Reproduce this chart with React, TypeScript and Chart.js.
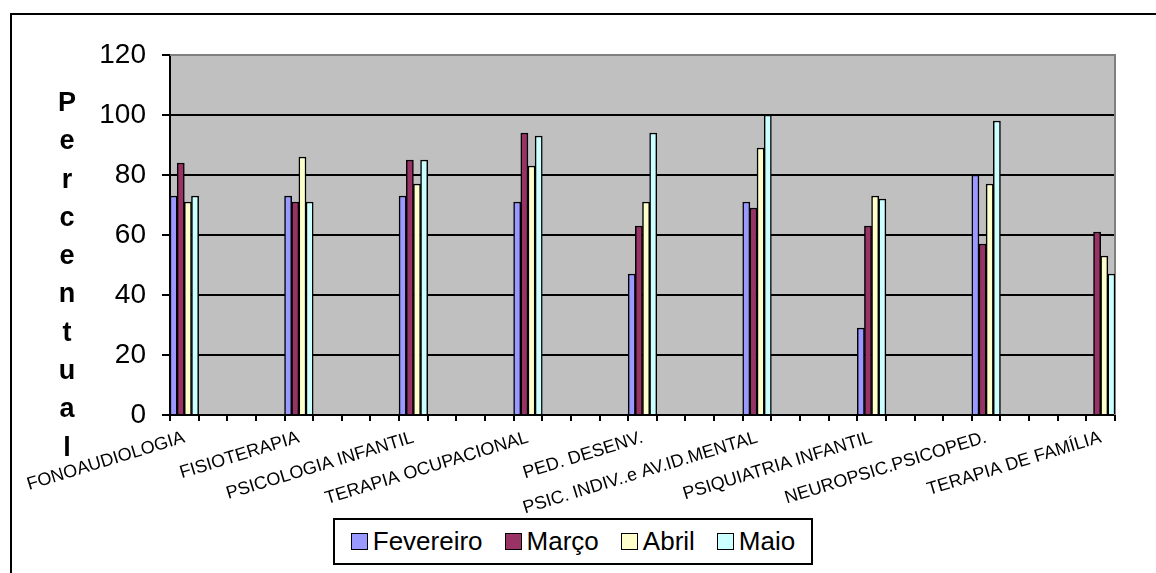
import React, { useEffect, useRef } from "react";
import { Chart, registerables } from "chart.js";

Chart.register(...registerables);

const categories = [
  "FONOAUDIOLOGIA",
  "FISIOTERAPIA",
  "PSICOLOGIA INFANTIL",
  "TERAPIA OCUPACIONAL",
  "PED. DESENV.",
  "PSIC. INDIV..e AV.ID.MENTAL",
  "PSIQUIATRIA INFANTIL",
  "NEUROPSIC.PSICOPED.",
  "TERAPIA DE FAMÍLIA",
];
const fevereiro: (number | null)[] = [73, 73, 73, 71, 47, 71, 29, 80, null];
const marco: (number | null)[] = [84, 71, 85, 94, 63, 69, 63, 57, 61];
const abril: (number | null)[] = [71, 86, 77, 83, 71, 89, 73, 77, 53];
const maio: (number | null)[] = [73, 71, 85, 93, 94, 100, 72, 98, 47];
const seriesNames = ["Fevereiro", "Março", "Abril", "Maio"];
const seriesColors = ["#9999FF", "#993366", "#FFFFCC", "#CCFFFF"];
const yTitle = "Percentual";
const yMin = 0;
const yMax = 120;
const yStep = 20;
// empty category slots between each labelled category (as in the original sheet)
const emptySlots = 3;

const FONT = "'Liberation Sans', Arial, Helvetica, sans-serif";

function pad<T>(arr: T[], filler: T): T[] {
  const out: T[] = [];
  arr.forEach((v, i) => {
    out.push(v);
    if (i < arr.length - 1) for (let k = 0; k < emptySlots; k++) out.push(filler);
  });
  return out;
}

const plotPlugin = {
  id: "plotBg",
  beforeDraw(chart: any) {
    const { ctx, chartArea } = chart;
    ctx.save();
    ctx.fillStyle = "#C0C0C0";
    ctx.fillRect(chartArea.left, chartArea.top, chartArea.right - chartArea.left, chartArea.bottom - chartArea.top);
    ctx.restore();
  },
  beforeDatasetsDraw(chart: any) {
    const { ctx, chartArea } = chart;
    ctx.save();
    ctx.strokeStyle = "#808080";
    ctx.lineWidth = 2;
    ctx.beginPath();
    ctx.moveTo(chartArea.left, chartArea.top);
    ctx.lineTo(chartArea.right, chartArea.top);
    ctx.lineTo(chartArea.right, chartArea.bottom);
    ctx.stroke();
    ctx.restore();
  },
};

export default function App() {
  const ref = useRef<HTMLCanvasElement>(null);

  useEffect(() => {
    document.documentElement.style.overflow = "hidden";
    document.body.style.overflow = "hidden";
    if (!ref.current) return;
    const series = [fevereiro, marco, abril, maio];
    const chart = new Chart(ref.current, {
      type: "bar",
      data: {
        labels: pad(categories, ""),
        datasets: series.map((s, i) => ({
          label: seriesNames[i],
          data: pad(s, null),
          backgroundColor: seriesColors[i],
          borderColor: "#000000",
          borderWidth: 1.5,
          categoryPercentage: 1,
          barPercentage: 1,
        })),
      },
      options: {
        responsive: false,
        animation: false,
        devicePixelRatio: 1,
        layout: { padding: { left: 0, top: 47, right: 33, bottom: 0 } },
        plugins: {
          legend: { display: false },
          tooltip: { enabled: false },
          title: { display: false },
        },
        scales: {
          x: {
            afterFit: (s: any) => {
              s.height = 150;
            },
            grid: {
              offset: true,
              drawOnChartArea: false,
              drawTicks: true,
              tickLength: 6,
              tickColor: "#000000",
              lineWidth: 2,
            },
            border: { display: true, color: "#000000", width: 2 },
            ticks: {
              autoSkip: false,
              minRotation: 17,
              maxRotation: 17,
              color: "#000000",
              padding: 6,
              font: { family: FONT, size: 18 },
            },
          },
          y: {
            min: yMin,
            max: yMax,
            afterFit: (s: any) => {
              s.width = 162;
            },
            grid: {
              color: (c: any) => (c.tick && c.tick.value === yMax ? "rgba(0,0,0,0)" : "#000000"),
              tickColor: "#000000",
              lineWidth: 2,
              tickLength: 8,
            },
            border: { display: true, color: "#000000", width: 2 },
            ticks: {
              stepSize: yStep,
              color: "#000000",
              padding: 16,
              font: { family: FONT, size: 28 },
            },
          },
        },
      },
      plugins: [plotPlugin],
    });
    return () => chart.destroy();
  }, []);

  return (
    <div style={{ position: "relative", width: 1140, height: 557 }}>
      <div
        style={{
          position: "fixed",
          left: 10,
          top: 13,
          width: 2000,
          height: 2000,
          borderTop: "2px solid #000",
          borderLeft: "2px solid #000",
        }}
      />
      <canvas ref={ref} width={1140} height={557} style={{ position: "absolute", left: 0, top: 0 }} />
      <div
        style={{
          position: "absolute",
          left: 44,
          top: 75,
          width: 30,
          textAlign: "center",
          fontFamily: FONT,
          fontWeight: "bold",
          fontSize: 27,
          lineHeight: "38.3px",
          color: "#000",
        }}
      >
        {yTitle.split("").map((ch, i) => (
          <div key={i}>{ch}</div>
        ))}
      </div>
      <div
        style={{
          position: "absolute",
          left: 325,
          top: 510,
          width: 480,
          height: 47,
          boxSizing: "border-box",
          border: "2px solid #000",
          background: "#fff",
          display: "flex",
          alignItems: "center",
          justifyContent: "center",
          gap: 22,
          fontFamily: FONT,
          fontSize: 26,
          color: "#000",
        }}
      >
        {seriesNames.map((n, i) => (
          <div key={n} style={{ display: "flex", alignItems: "center", gap: 5 }}>
            <span
              style={{
                display: "inline-block",
                width: 15,
                height: 15,
                background: seriesColors[i],
                border: "1px solid #000",
              }}
            />
            <span>{n}</span>
          </div>
        ))}
      </div>
    </div>
  );
}
